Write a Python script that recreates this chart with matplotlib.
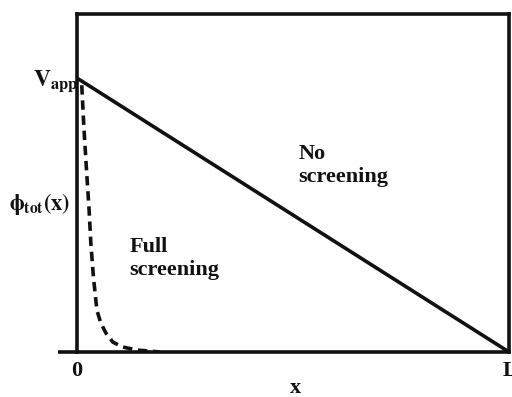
import matplotlib
matplotlib.use("Agg")
import matplotlib.pyplot as plt

plt.rcParams['font.family'] = ['Liberation Serif', 'DejaVu Serif']
plt.rcParams['mathtext.fontset'] = 'stix'

# Unscreened potential: straight drop from V_app at x=0 to zero at x=L
no_screen_x = [0.0, 1.0]
no_screen_y = [1.0, 0.0]

# Fully screened potential: rapid decay near the electrode
full_screen_x = [0.011, 0.016, 0.022, 0.028, 0.032, 0.038, 0.046, 0.055,
                 0.067, 0.083, 0.106, 0.139, 0.192]
full_screen_y = [0.974, 0.818, 0.664, 0.518, 0.398, 0.274, 0.153, 0.106,
                 0.069, 0.036, 0.018, 0.007, 0.0]

x_tick_labels = ['0', 'L']

fig = plt.figure(figsize=(5.12, 3.97), dpi=100)
ax = fig.add_axes([0.1504, 0.1134, 0.8437, 0.8513])
ax.set_xlim(0, 1)
ax.set_ylim(0, 1.234)

lw = 2.6
ax.plot(no_screen_x, no_screen_y, color='#111111', lw=lw, solid_capstyle='butt')
ax.plot(full_screen_x, full_screen_y, color='#111111', lw=lw,
        dashes=(2.6, 1.6), solid_joinstyle='round')

for s in ax.spines.values():
    s.set_linewidth(lw)
    s.set_color('#111111')
# bottom axis reaches a little left of the vertical axis
ax.plot([-0.044, 0.0], [0, 0], color='#111111', lw=lw, clip_on=False,
        solid_capstyle='butt')

ax.set_xticks([])
ax.set_yticks([])

bold = dict(fontweight='bold', color='#111111')
ax.text(0.0, -0.068, x_tick_labels[0], ha='center', va='center', fontsize=16, **bold)
ax.text(1.003, -0.068, x_tick_labels[1], ha='center', va='center', fontsize=16, **bold)
ax.text(0.505, -0.13, 'x', ha='center', va='center', fontsize=16, **bold)

ax.text(-0.103, 0.99, r'$\mathbf{V}_{\mathbf{app}}$', ha='left', va='center',
        fontsize=17, color='#111111')
ax.text(-0.157, 0.54, r'$\mathbf{\phi}_{\mathbf{tot}}\mathbf{(x)}$', ha='left',
        va='center', fontsize=16, color='#111111')

ax.text(0.512, 0.68, 'No\nscreening', ha='left', va='center', fontsize=16,
        linespacing=1.2, **bold)
ax.text(0.122, 0.34, 'Full\nscreening', ha='left', va='center', fontsize=16,
        linespacing=1.2, **bold)

fig.savefig('out.png', dpi=100, facecolor='white')
